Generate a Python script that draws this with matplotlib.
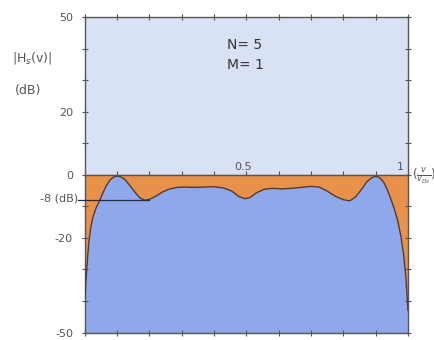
import numpy as np
import matplotlib
matplotlib.use("Agg")
import matplotlib.pyplot as plt

# normalized frequency v / v_Ds and magnitude |H_s(v)| in dB
freq = [0.000, 0.004, 0.008, 0.012, 0.018, 0.025, 0.035, 0.046, 0.055, 0.065,
        0.077, 0.088, 0.100, 0.112, 0.125, 0.140, 0.155, 0.170, 0.186, 0.200,
        0.220, 0.240, 0.260, 0.285, 0.310, 0.340, 0.370, 0.400, 0.430, 0.455,
        0.475, 0.495, 0.510, 0.530, 0.555, 0.580, 0.610, 0.640, 0.670, 0.700,
        0.725, 0.750, 0.775, 0.800, 0.820, 0.838, 0.855, 0.872, 0.888, 0.900,
        0.912, 0.925, 0.937, 0.948, 0.958, 0.968, 0.978, 0.986, 0.993, 1.000]
gain_db = [-39, -33, -27, -22, -17, -13.5, -10.5, -8.2, -6.0, -3.8,
           -1.8, -0.8, -0.4, -0.7, -1.6, -3.5, -5.5, -7.3, -8.1, -7.8,
           -6.8, -5.5, -4.6, -4.0, -3.9, -4.0, -3.9, -3.8, -4.2, -5.2,
           -6.8, -7.6, -7.3, -5.8, -4.6, -4.3, -4.5, -4.3, -4.0, -3.7,
           -3.9, -5.2, -6.8, -7.9, -8.3, -7.0, -4.8, -2.3, -0.9, -0.5,
           -0.9, -2.4, -5.0, -8.0, -11.0, -14.5, -19.5, -25.0, -32.0, -43.0]

y_ticks = [50, 40, 30, 20, 10, 0, -10, -20, -30, -40, -50]
y_labels = {50: "50", 20: "20", 0: "0", -20: "-20", -50: "-50"}
ripple_db = -8

ink = "#555555"
c_top = "#d9e2f5"
c_fill = "#e8914a"
c_below = "#8fa8ec"

fig = plt.figure(figsize=(4.35, 3.4), dpi=100)
ax = fig.add_axes([0.195, 0.022, 0.743, 0.928])
ax.set_xlim(0, 1)
ax.set_ylim(-50, 50)

ax.axhspan(0, 50, color=c_top, zorder=0)
ax.fill_between(freq, -50, gain_db, color=c_below, lw=0, zorder=1)
ax.fill_between(freq, gain_db, 0, color=c_fill, lw=0, zorder=1)
ax.plot(freq, gain_db, color="#4a3a35", lw=1.0, zorder=3)
ax.axhline(0, color=ink, lw=1.0, zorder=4)

# -8 dB ripple marker
ax.plot([-0.02, 0.2], [ripple_db, ripple_db], color="#2a2a40", lw=0.9,
        clip_on=False, zorder=4)
ax.text(-0.02, ripple_db + 0.5, "-8 (dB)", ha="right", va="center",
        fontsize=8, color=ink)

for s in ax.spines.values():
    s.set_color(ink)
    s.set_linewidth(1.0)

ax.set_xticks(np.arange(0, 1.01, 0.1))
ax.set_xticklabels([])
ax.set_yticks(y_ticks)
ax.set_yticklabels([y_labels.get(t, "") for t in y_ticks], color=ink, fontsize=8)
ax.tick_params(direction="inout", length=5, width=0.8, color=ink,
               top=True, right=True, bottom=True, left=True, pad=6)

# ticks along the 0 dB line
mid = ax.secondary_xaxis(0.5)
mid.set_xticks(np.arange(0, 1.01, 0.1))
mid.set_xticklabels([])
mid.spines["bottom"].set_visible(False)
mid.tick_params(direction="out", length=3, width=0.8, color=ink)

ax.text(0.49, 1.0, "0.5", ha="center", va="bottom", fontsize=8, color=ink)
ax.text(0.975, 1.0, "1", ha="center", va="bottom", fontsize=8, color=ink)
ax.text(1.012, -0.5, r"($\frac{v}{v_{Ds}}$)", ha="left", va="center",
        fontsize=8.5, color=ink, clip_on=False)

ax.text(0.44, 38, "N= 5\nM= 1", ha="left", va="center", fontsize=10,
        color="#333333", linespacing=1.6)

fig.text(0.075, 0.83, r"|H$_s$(v)|", ha="center", va="center",
         fontsize=9, color=ink)
fig.text(0.065, 0.735, "(dB)", ha="center", va="center", fontsize=9, color=ink)

fig.savefig("out.png", dpi=100)
